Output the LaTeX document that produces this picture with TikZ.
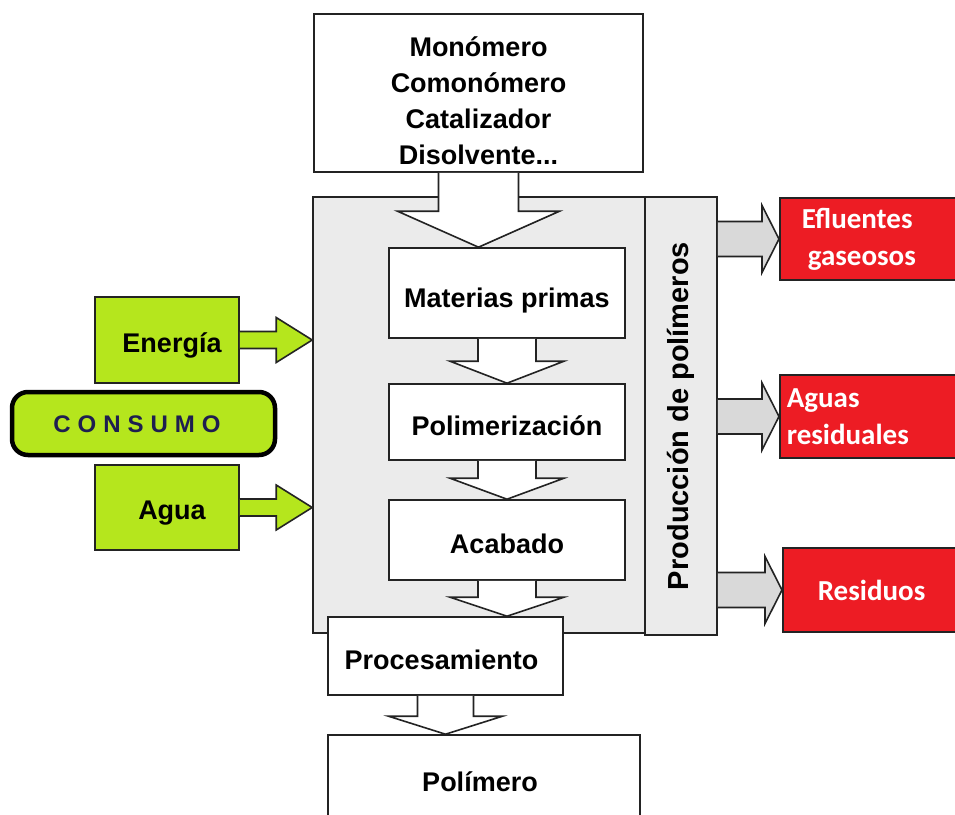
\documentclass[tikz,border=0pt]{standalone}
\usepackage{fontspec}
\setmainfont{Liberation Sans}
\newfontfamily\calfont{Carlito}
\usepackage{tikz}
\usetikzlibrary{calc}

\definecolor{lime}{RGB}{181,230,29}
\definecolor{fire}{RGB}{237,28,36}
\definecolor{panel}{RGB}{235,235,235}
\definecolor{pipe}{RGB}{217,217,217}
\definecolor{ink}{RGB}{35,35,35}
\definecolor{navy}{RGB}{30,30,80}

% wide arrow going down: [style]{from}{to}{shaft half}{head half}{head length}
\newcommand{\blockdown}[6][]{%
  \draw[flow,#1] let \p1=(#2), \p2=(#3) in
    (\x1-#4,\y1) -- (\x1-#4,\y2+#6) -- (\x1-#5,\y2+#6) -- (\x1,\y2)
    -- (\x1+#5,\y2+#6) -- (\x1+#4,\y2+#6) -- (\x1+#4,\y1);}
% wide arrow going right
\newcommand{\blockright}[6][]{%
  \draw[flow,#1] let \p1=(#2), \p2=(#3) in
    (\x1,\y1+#4) -- (\x2-#6,\y1+#4) -- (\x2-#6,\y1+#5) -- (\x2,\y1)
    -- (\x2-#6,\y1-#5) -- (\x2-#6,\y1-#4) -- (\x1,\y1-#4);}

\begin{document}
\begin{tikzpicture}[x=1pt, y=-1pt,
  stage/.style={rectangle, draw=ink, line width=1.6pt, fill=white, inner sep=0pt,
    text height=26pt, text depth=0pt, font=\fontsize{27}{36}\selectfont\bfseries},
  feedbox/.style={stage, fill=lime, minimum width=144pt, minimum height=86pt, text height=24pt},
  waste/.style={rectangle, draw=ink, line width=1.6pt, fill=fire, text=white, anchor=west,
    align=left, inner ysep=0pt, font=\calfont\fontsize{29}{37}\selectfont\bfseries},
  flow/.style={draw=ink, line width=1.6pt, fill=white, line join=miter}]
\useasboundingbox (0,0) rectangle (955,814);
\clip (0,0) rectangle (955,814);

% plant block
\node (plant) [rectangle, draw=ink, line width=1.6pt, fill=panel, minimum width=332pt, minimum height=436pt] at (479,415) {};
\node (prod) [rectangle, draw=ink, line width=1.6pt, fill=panel, rotate=90, minimum width=438pt, minimum height=72pt,
  font=\fontsize{29}{30}\selectfont\bfseries] at (681,416) {Producción de polímeros};

\node (feed) [rectangle, draw=ink, line width=1.6pt, fill=white, inner sep=0pt, align=center,
  font=\fontsize{27}{36}\selectfont\bfseries, minimum width=329pt, minimum height=158pt] at (478.5,93)
  {\rule{0pt}{36pt}Monómero\\Comonómero\\Catalizador\\Disolvente...};
\node (raw) [stage, minimum width=236pt, minimum height=90pt, text height=29pt] at (507,293) {Materias primas};
\node (poly) [stage, minimum width=236pt, minimum height=76pt] at (507,422) {Polimerización};
\node (finish) [stage, minimum width=236pt, minimum height=80pt] at (507,540) {Acabado};
\node (proc) [stage, minimum width=235pt, minimum height=78pt] at (445.5,656) {Procesamiento\kern8pt};
\node (product) [stage, minimum width=312pt, minimum height=87pt] at (484,778.5) {Polímero\kern8pt};

\blockdown{feed.south}{raw.north}{40pt}{81pt}{36pt}
\blockdown{raw.south}{poly.north}{29pt}{57pt}{22pt}
\blockdown{poly.south}{finish.north}{29pt}{57pt}{21pt}
\blockdown{finish.south}{proc.north}{29pt}{57pt}{19pt}
\blockdown{proc.south}{product.north}{28pt}{57pt}{18pt}

% consumption
\node (energy) [feedbox] at (167,340) {\kern10pt Energía};
\node (water) [feedbox, minimum height=85pt] at (167,507.5) {\kern10pt Agua};
\node (usage) [rectangle, rounded corners=16pt, draw=black, line width=4.5pt, fill=lime, text=navy,
  minimum width=263pt, minimum height=63pt, text height=17pt, text depth=0pt,
  font=\fontsize{24}{24}\selectfont\bfseries] at (143.5,423.5)
  {C\kern7pt O\kern7pt N\kern7pt S\kern7pt U\kern7pt M\kern7pt O\kern13pt};

\blockright[fill=lime]{energy.east}{plant.west}{8.5pt}{22.5pt}{36pt}
\blockright[fill=lime]{water.east}{plant.west}{8.5pt}{22.5pt}{36pt}

% emissions
\node (gas) [waste, text width=160pt, inner xsep=22pt, minimum height=82pt] at (779,239) {Efluentes\\\hspace*{6pt}gaseosos};
\node (wastewater) [waste, text width=180pt, inner xsep=7pt, minimum height=83pt] at (779,416.5) {Aguas\\residuales};
\node (residue) [waste, text width=140pt, inner xsep=35pt, minimum height=84pt] at (782,590) {Residuos};

\blockright[fill=pipe]{prod.south |- gas.west}{gas.west}{17.5pt}{33.5pt}{17pt}
\blockright[fill=pipe]{prod.south |- wastewater.west}{wastewater.west}{17.5pt}{33.5pt}{17pt}
\blockright[fill=pipe]{prod.south |- residue.west}{residue.west}{17.5pt}{33.5pt}{17pt}
\end{tikzpicture}
\end{document}
